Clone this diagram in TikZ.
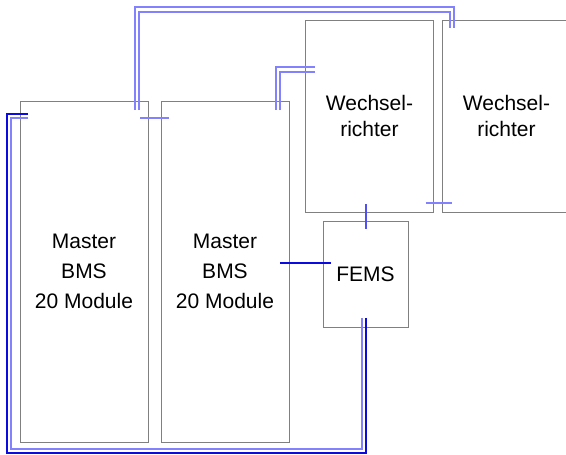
\documentclass[tikz,border=0pt]{standalone}
\usepackage{fontspec}
\setmainfont{Liberation Sans}
\usetikzlibrary{positioning, calc}
\definecolor{boxgray}{RGB}{128,128,128}
\definecolor{cablelight}{RGB}{130,130,255}
\definecolor{cabledark}{RGB}{10,10,225}
\definecolor{cablemid}{RGB}{80,80,245}
\tikzstyle{battery} = [rectangle,
minimum width=128pt,
minimum height=341pt,
inner sep=0pt, outer sep=0pt,
align=center,
font={\fontsize{21}{30}\selectfont},
draw=boxgray, line width=1pt]
\tikzstyle{inverter} = [rectangle,
minimum width=128pt,
minimum height=192pt,
inner sep=0pt, outer sep=0pt,
align=center,
font={\fontsize{21}{26}\selectfont},
draw=boxgray, line width=1pt]
\tikzstyle{ems} = [rectangle,
minimum width=85pt,
minimum height=106pt,
inner sep=0pt, outer sep=0pt,
font={\fontsize{21}{26}\selectfont},
draw=boxgray, line width=1pt]
\tikzstyle{cable} = [cablelight, line width=1.2pt]
\tikzstyle{cablemain} = [cabledark, line width=1.5pt]

\begin{document}
\begin{tikzpicture}[x=1pt, y=-1pt]
\useasboundingbox (0,0) rectangle (566,455);

\node (bms1) [battery] at (84,271.5) {Master\\BMS\\20 Module};
\node (bms2) [battery, right=13pt of bms1] {Master\\BMS\\20 Module};
\node (wr1) [inverter] at (369.5,116) {Wechsel-\\richter};
\node (wr2) [inverter, right=9pt of wr1] {Wechsel-\\richter};
\node (fems) [ems] at (365.5,274) {FEMS};

% cable ends
\coordinate (a1) at (135,110);
\coordinate (a2) at (139,110);
\coordinate (a1_end) at (454,28);
\coordinate (a2_end) at (450,28);
\coordinate (b1) at (276,110);
\coordinate (b2) at (280,110);
\coordinate (b1_end) at (315,67);
\coordinate (b2_end) at (315,72);
\coordinate (c_dark) at (28,114);
\coordinate (c_light) at (28,118);
\coordinate (d_start) at (280,263);
\coordinate (d_end) at (331,263);

% battery 1 to inverter 2
\draw [cable] (a1) -- (135,7) -- (454,7) -- (a1_end);
\draw [cable] (a2) -- (139,12) -- (450,12) -- (a2_end);
% battery 2 to inverter 1
\draw [cable] (b1) -- (276,67) -- (b1_end);
\draw [cable] (b2) -- (280,72) -- (b2_end);
% loop round the batteries to FEMS
\draw [cablemain] (c_dark) -- (7,114) -- (7,453) -- (366,453) -- (366,318);
\draw [cable] (c_light) -- (11,118) -- (11,449) -- (362,449) -- (362,318);
\draw [cablemain] (d_start) -- (d_end);

% links between neighbours
\draw [cable] ($(bms1.north east)+(-8,17)$) -- ($(bms2.north west)+(8,17)$);
\draw [cablemid, line width=1.2pt] ($(wr1.south)+(-3.5,-8)$) -- ($(fems.north)+(0.5,8)$);
\draw [cable] ($(wr1.south east)+(-8,-9)$) -- ($(wr2.south west)+(9,-9)$);

\end{tikzpicture}
\end{document}
